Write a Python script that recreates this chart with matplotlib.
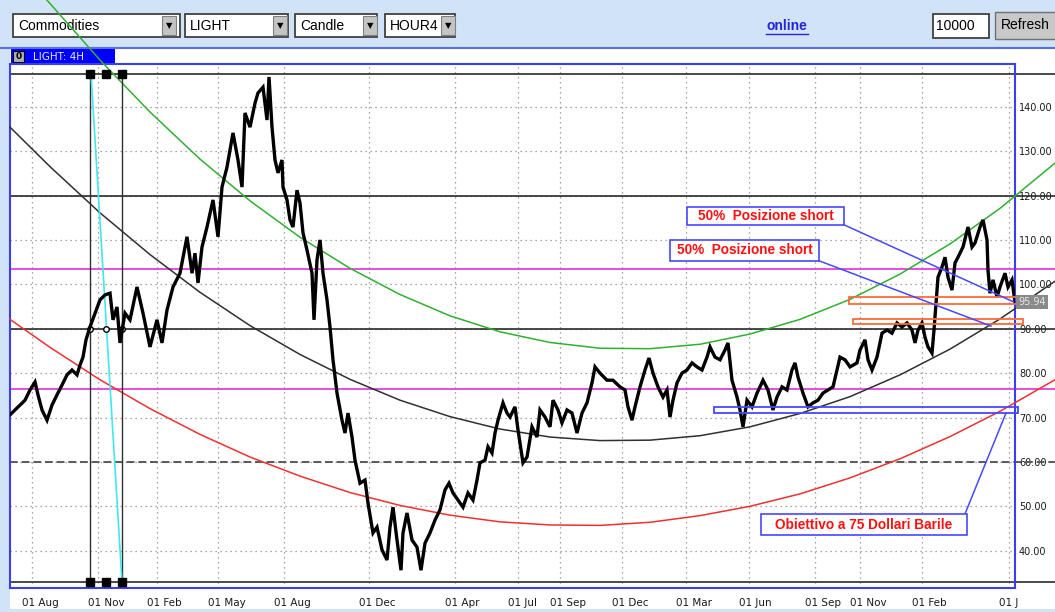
import matplotlib

matplotlib.use("Agg")
import matplotlib.pyplot as plt
import matplotlib.transforms as mtransforms
from matplotlib.lines import Line2D
from matplotlib.patches import Rectangle

W, H = 1055, 612

# LIGHT crude, 4H bars: x = bar position on the chart, close in USD
bar_x = [10, 15, 20, 25, 30, 35, 38, 42, 47, 52, 57, 62, 67, 72, 77, 80, 83, 86, 90,
         100, 105, 110, 113, 117, 120, 125, 130, 137, 143, 150, 157, 162, 167, 173, 180,
         187, 192, 195, 198, 202, 207, 213, 218, 222, 227, 233, 238, 242, 245, 250, 255,
         258, 263, 267, 269, 272, 275, 278, 282, 283, 287, 290, 293, 297, 300, 303, 307,
         312, 314, 317, 320, 323, 327, 330, 333, 337, 342, 345, 348, 352, 355, 360, 365,
         368, 373, 377, 382, 387, 390, 393, 397, 401, 403, 407, 412, 417, 421, 425, 430,
         435, 440, 445, 449, 453, 458, 463, 468, 473, 477, 480, 485, 488, 492, 495, 498,
         503, 507, 510, 515, 518, 523, 527, 532, 537, 540, 545, 550, 553, 558, 562, 567,
         572, 577, 582, 587, 592, 595, 600, 607, 613, 620, 625, 628, 632, 635, 640, 645,
         649, 653, 658, 663, 667, 670, 673, 677, 682, 687, 692, 697, 702, 707, 710, 715,
         720, 725, 728, 732, 737, 740, 743, 747, 752, 757, 760, 763, 768, 773, 777, 782,
         787, 792, 795, 798, 803, 808, 813, 818, 823, 828, 833, 837, 840, 845, 850, 857,
         860, 865, 868, 872, 877, 882, 887, 892, 897, 902, 907, 912, 915, 918, 922, 925,
         928, 932, 934, 936, 938, 942, 945, 948, 952, 955, 958, 963, 968, 972, 975, 980,
         983, 987, 988, 990, 993, 997, 1000, 1005, 1008, 1012, 1015]
close = [70.6, 71.7, 72.8, 73.9, 76.2, 78.0, 75.1, 71.7, 69.4, 72.8, 75.1, 77.3, 79.6,
         80.7, 79.6, 81.8, 83.6, 87.5, 90.4, 96.5, 97.6, 98.0, 92.0, 94.9, 86.8, 93.5,
         92.0, 99.4, 93.5, 85.9, 92.0, 86.8, 94.2, 99.4, 102.5, 110.7, 102.5, 107.0, 100.3,
         108.4, 112.9, 119.0, 110.7, 121.9, 126.4, 134.1, 128.0, 121.9, 138.6, 135.4, 140.8,
         143.1, 144.4, 137.0, 146.7, 135.4, 128.0, 125.1, 128.0, 121.9, 119.0, 114.5, 112.9,
         121.2, 118.3, 111.6, 107.7, 102.5, 92.0, 105.5, 110.0, 102.5, 96.5, 90.4, 83.0,
         75.5, 69.4, 66.5, 71.0, 65.6, 60.4, 55.2, 55.9, 50.7, 44.0, 45.3, 40.2, 37.9, 45.3,
         49.8, 42.4, 35.6, 44.0, 48.5, 42.4, 40.8, 35.6, 41.7, 44.0, 46.9, 49.2, 53.7, 55.2,
         53.0, 51.4, 49.8, 53.0, 51.4, 55.9, 59.8, 60.4, 63.4, 62.0, 66.5, 69.4, 73.3, 71.0,
         70.1, 72.4, 67.2, 59.8, 61.1, 67.9, 65.6, 71.7, 70.1, 67.9, 73.9, 71.7, 68.8, 71.7,
         71.0, 66.5, 71.0, 73.3, 77.8, 81.4, 80.0, 78.4, 78.4, 76.9, 76.2, 72.4, 69.4, 72.4,
         76.9, 80.7, 83.4, 80.0, 76.9, 74.6, 76.2, 70.1, 73.9, 77.8, 80.0, 80.7, 82.3, 81.4,
         80.7, 83.6, 85.9, 83.6, 83.0, 85.2, 86.8, 78.4, 74.6, 71.7, 67.9, 73.9, 72.4, 75.5,
         76.9, 78.4, 76.2, 71.7, 74.6, 76.9, 76.2, 80.7, 82.3, 79.1, 75.5, 72.4, 73.3, 73.9,
         75.5, 76.2, 76.9, 80.7, 83.6, 83.0, 81.4, 82.3, 85.2, 87.5, 83.0, 80.7, 83.6, 89.0,
         89.7, 89.0, 91.3, 90.4, 91.3, 89.7, 86.8, 89.7, 91.3, 88.1, 85.9, 84.5, 89.7, 95.8,
         101.6, 103.9, 106.1, 101.6, 98.7, 104.8, 106.1, 108.4, 112.9, 108.4, 109.3, 112.9,
         114.5, 110.0, 103.2, 98.0, 101.0, 97.1, 99.4, 102.5, 99.4, 101.0, 95.9]
last_price = 95.94

# arcs drawn on the chart (price read at each x)
arc_x = [10, 50, 100, 150, 200, 250, 300, 350, 400, 450, 500, 550, 600, 650, 700,
         750, 800, 850, 900, 950, 1000, 1055]
black_arc = [135.4, 126.5, 116.1, 106.7, 98.2, 90.7, 84.2, 78.6, 73.9, 70.2, 67.4, 65.6,
             64.8, 64.9, 65.9, 67.9, 70.9, 74.7, 79.6, 85.4, 92.2, 100.7]
red_arc = [92.1, 85.8, 78.5, 72.0, 66.2, 61.1, 56.8, 53.1, 50.2, 48.0, 46.5, 45.8, 45.7,
           46.4, 47.9, 50.0, 52.8, 56.4, 60.7, 65.7, 71.4, 78.5]
green_x = [47, 100, 150, 200, 250, 300, 350, 400, 450, 500, 550, 600, 650, 700, 750,
           800, 850, 900, 950, 1000, 1055]
green_arc = [164.0, 150.5, 138.8, 128.2, 118.8, 110.6, 103.6, 97.7, 92.9, 89.3, 86.9,
             85.6, 85.5, 86.5, 88.8, 92.1, 96.6, 102.3, 109.1, 117.1, 127.3]

# horizontal levels
black_levels = [147.4, 120.0, 90.0, 32.9]
magenta_levels = [103.4, 76.4]
dashed_levels = [60.0]

# axis ticks
y_ticks = [40, 50, 60, 70, 80, 90, 100, 110, 120, 130, 140]
x_ticks = [32, 98, 157, 218, 284, 369, 455, 518, 560, 622, 686, 749, 815, 860, 922, 1009]
x_labels = ["01 Aug", "01 Nov", "01 Feb", "01 May", "01 Aug", "01 Dec", "01 Apr", "01 Jul",
            "01 Sep", "01 Dec", "01 Mar", "01 Jun", "01 Sep", "01 Nov", "01 Feb", "01 J"]

# zones (x0, x1, price low, price high)
orange_zones = [(849, 1030, 95.6, 97.1), (853, 1023, 91.1, 92.2)]
blue_zone = (714, 1018, 71.0, 72.4)

BLUE = "#3c3cf0"
TOOLBAR = "#d0e3f7"


def fig_rect(x0, y0, x1, y1, **kw):
    kw.setdefault("zorder", -5)
    fig.add_artist(Rectangle((x0 / W, 1 - y1 / H), (x1 - x0) / W, (y1 - y0) / H,
                             transform=fig.transFigure, **kw))


def fig_text(x, y, s, **kw):
    kw.setdefault("zorder", -4)
    fig.text(x / W, 1 - y / H, s, va="center", **kw)


fig = plt.figure(figsize=(W / 100, H / 100), dpi=100)
fig.patch.set_facecolor("white")

# --- toolbar -------------------------------------------------------------
fig_rect(0, 0, W, 48, fc=TOOLBAR, ec="none")
fig_rect(0, 48, 10, H, fc=TOOLBAR, ec="none")
fig_rect(0, 609, W, H, fc=TOOLBAR, ec="none")
fig.add_artist(Line2D([0, 1], [1 - 48 / H] * 2, transform=fig.transFigure,
                      color="#5a6ee8", lw=1.5, zorder=-4))
for (x0, x1, bx, label) in [(13, 180, 162, "Commodities"), (185, 288, 273, "LIGHT"),
                            (295, 377, 363, "Candle"), (385, 455, 441, "HOUR4")]:
    fig_rect(x0, 14, x1, 37, fc="white", ec="#404040", lw=1.3)
    fig_rect(bx, 16, bx + 14, 35, fc="#c4c4c4", ec="#808080", lw=0.8)
    fig_text(bx + 7, 26, "▼", ha="center", fontsize=6, color="black")
    fig_text(x0 + 5, 26, label, ha="left", fontsize=10, family="Liberation Sans")
fig_text(787, 26, "online", ha="center", fontsize=10, fontweight="bold",
         family="Liberation Sans", color="#2323d8")
fig.add_artist(Line2D([766 / W, 808 / W], [1 - 34 / H] * 2, transform=fig.transFigure,
                      color="#2323d8", lw=1, zorder=-4))
fig_rect(933, 14, 989, 38, fc="white", ec="#404040", lw=1.3)
fig_text(936, 26, "10000", ha="left", fontsize=10, family="Liberation Sans")
fig_rect(995, 12, 1060, 39, fc="#c8c8c8", ec="#707070", lw=1)
fig_text(1025, 25, "Refresh", ha="center", fontsize=10, family="Liberation Sans")

# tab
fig_rect(11, 49, 115, 64, fc="#0000ff", ec="none")
fig_rect(13, 51, 24, 62, fc="#b0b0b0", ec="black", lw=0.8)
fig_text(18.5, 56.5, "0", ha="center", fontsize=6.5, fontweight="bold", color="black")
fig_text(33, 57, "LIGHT: 4H", ha="left", fontsize=7.5, color="#e8e8ff")

# --- chart ---------------------------------------------------------------
ax = fig.add_axes([10 / W, 1 - 588 / H, 1005 / W, 524 / H])
ax.set_xlim(10, 1015)
ax.set_ylim(31.60, 149.62)
for s in ax.spines.values():
    s.set_color(BLUE)
    s.set_linewidth(1.5)

ax.set_yticks(y_ticks, [f"{v:.2f}" for v in y_ticks])
ax.set_xticks(x_ticks, x_labels)
ax.yaxis.tick_right()
ax.tick_params(axis="y", length=0, pad=2.8, labelsize=7.0, labelcolor="#1a1a1a")
ax.tick_params(axis="x", length=0, pad=7, labelsize=7.5, labelcolor="#1a1a1a")
shift = mtransforms.ScaledTranslation(-0.10, 0, fig.dpi_scale_trans)
for lbl in ax.get_xticklabels():
    lbl.set_ha("left")
    lbl.set_transform(lbl.get_transform() + shift)
ax.grid(True, ls=(0, (1, 3)), color="#8c8c8c", lw=0.9)
ax.set_axisbelow(True)

for lv in black_levels:
    ax.plot([10, 1055], [lv, lv], color="#2a2a2a", lw=1.2, clip_on=False, zorder=2)
for lv in magenta_levels:
    ax.plot([10, 1055], [lv, lv], color="#e040e0", lw=1.3, clip_on=False, zorder=2)
for lv in dashed_levels:
    ax.plot([10, 1055], [lv, lv], color="#5a5a5a", lw=1.4, ls=(0, (4, 2)),
            clip_on=False, zorder=2)

# arcs
ax.plot(arc_x, black_arc, color="#303030", lw=1.1, clip_on=False, zorder=3)
ax.plot(arc_x, red_arc, color="#f03030", lw=1.1, clip_on=False, zorder=3)
ax.plot(green_x, green_arc, color="#30b030", lw=1.1, clip_on=False, zorder=3)

# vertical cycle lines at the left
for vx in [90, 122]:
    ax.plot([vx, vx], [black_levels[-1], black_levels[0]], color="#303030", lw=1, zorder=3)
ax.plot([91, 122], [black_levels[0], black_levels[-1]], color="#40e8f0", lw=1.2, zorder=3)
ax.plot([90, 106, 122] * 2, [black_levels[0]] * 3 + [black_levels[-1]] * 3, "s",
        color="black", ms=5.5, zorder=4)
ax.plot([90, 106, 122], [90.0] * 3, "o", mfc="white", mec="black", ms=4, zorder=4)

# price
ax.plot(bar_x, close, color="black", lw=2.4, zorder=5, solid_joinstyle="miter")

# zones
for x0, x1, lo, hi in orange_zones:
    ax.add_patch(Rectangle((x0, lo), x1 - x0, hi - lo, fc="none", ec="#ff6a3a",
                           lw=1.3, clip_on=False, zorder=6))
bx0, bx1, blo, bhi = blue_zone
ax.add_patch(Rectangle((bx0, blo), bx1 - bx0, bhi - blo, fc="none", ec="#4848ff",
                       lw=1.3, clip_on=False, zorder=6))

# last price tag
ax.text(1018, last_price, f"{last_price:.2f}", fontsize=7.0, color="#e8e8e8", va="center",
        clip_on=False, zorder=7,
        bbox=dict(boxstyle="square,pad=0.2", fc="#8a8a8a", ec="none"))

# callouts
for (x0, x1, lo, hi, tx, ty, text) in [
        (687, 844, 113.4, 117.4, 1013, 96.1, "50%  Posizione short"),
        (670, 819, 105.3, 110.0, 991, 90.6, "50%  Posizione short"),
        (761, 967, 43.5, 48.3, 1006, 71.0, "Obiettivo a 75 Dollari Barile")]:
    ax.plot([x1 if hi > 60 else x1 - 2, tx], [lo if hi > 60 else hi, ty],
            color="#4848ff", lw=1.1, zorder=6, clip_on=False)
    ax.add_patch(Rectangle((x0, lo), x1 - x0, hi - lo, fc="white", ec="#4848ff",
                           lw=1.2, zorder=7))
    ax.text((x0 + x1) / 2, (lo + hi) / 2, text, ha="center", va="center", fontsize=9.8,
            fontweight="bold", color="#ff1010", family="Liberation Sans", zorder=8)

fig.savefig("out.png", dpi=100)
